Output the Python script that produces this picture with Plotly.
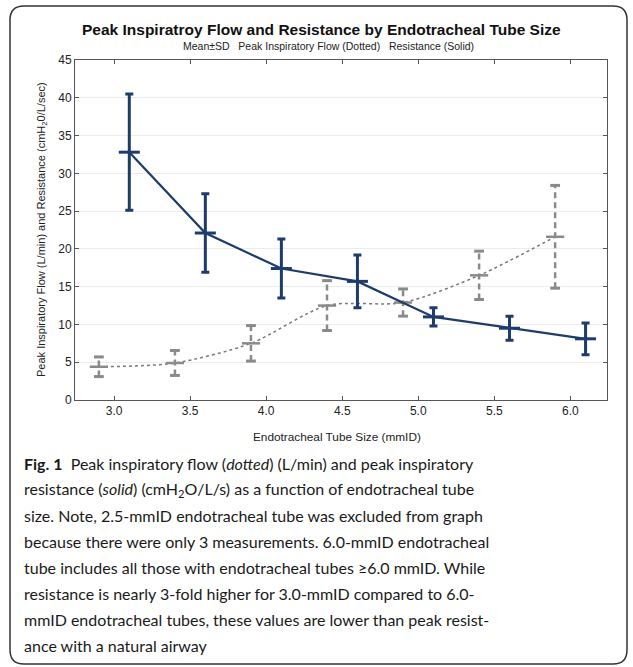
import plotly.graph_objects as go

# ---------------- data ----------------
tube_sizes = [3.0, 3.5, 4.0, 4.5, 5.0, 5.5, 6.0]
x_ticks = [3.0, 3.5, 4.0, 4.5, 5.0, 5.5, 6.0]
y_ticks = [0, 5, 10, 15, 20, 25, 30, 35, 40, 45]

flow_mean = [4.4, 4.9, 7.5, 12.5, 12.9, 16.5, 21.6]
flow_sd = [1.3, 1.65, 2.35, 3.3, 1.8, 3.2, 6.8]

res_mean = [32.8, 22.1, 17.4, 15.7, 11.0, 9.5, 8.1]
res_sd = [7.7, 5.2, 3.9, 3.5, 1.2, 1.6, 2.1]

flow_offset = -0.1
res_offset = 0.1

caption_lines = [
    "<b>Fig. 1</b>  Peak inspiratory flow (<i>dotted</i>) (L/min) and peak inspiratory",
    "resistance (<i>solid</i>) (cmH<sub>2</sub>O/L/s) as a function of endotracheal tube",
    "size. Note, 2.5-mmID endotracheal tube was excluded from graph",
    "because there were only 3 measurements. 6.0-mmID endotracheal",
    "tube includes all those with endotracheal tubes \u22656.0 mmID. While",
    "resistance is nearly 3-fold higher for 3.0-mmID compared to 6.0-",
    "mmID endotracheal tubes, these values are lower than peak resist-",
    "ance with a natural airway",
]

# ---------------- layout geometry ----------------
W, H = 633, 667
L, R, T, B = 75, 607, 60, 400


def px(x):
    return (x - L) / (R - L)


def py(y):
    return (B - y) / (B - T)


NAVY = "#1d3c6c"
GRAY = "#8a8a8a"
FONT = "Liberation Sans, Arial, sans-serif"

fx = [s + flow_offset for s in tube_sizes]
rx = [s + res_offset for s in tube_sizes]

fig = go.Figure()

# flow dashed error bars (vertical)
ebx, eby = [], []
for x, m, s in zip(fx, flow_mean, flow_sd):
    ebx += [x, x, None]
    eby += [m - s, m + s, None]
fig.add_trace(go.Scatter(x=ebx, y=eby, mode="lines",
                         line=dict(color=GRAY, width=2.5, dash="6px,4px"),
                         hoverinfo="skip", showlegend=False))
# flow caps
fig.add_trace(go.Scatter(x=fx + fx, y=[m + s for m, s in zip(flow_mean, flow_sd)] +
                         [m - s for m, s in zip(flow_mean, flow_sd)],
                         mode="markers",
                         marker=dict(symbol="line-ew", size=7,
                                     line=dict(color=GRAY, width=3)),
                         hoverinfo="skip", showlegend=False))
# flow line
fig.add_trace(go.Scatter(x=fx, y=flow_mean, mode="lines",
                         line=dict(color="#7a7a7a", width=1.5, dash="3px,3px",
                                   shape="spline", smoothing=0.8),
                         showlegend=False))
# flow mean markers
fig.add_trace(go.Scatter(x=fx, y=flow_mean, mode="markers",
                         marker=dict(symbol="line-ew", size=13,
                                     line=dict(color=GRAY, width=2.5)),
                         showlegend=False))

# resistance
fig.add_trace(go.Scatter(x=rx, y=res_mean, mode="lines",
                         line=dict(color=NAVY, width=2.2),
                         error_y=dict(type="data", array=res_sd, visible=True,
                                      color=NAVY, thickness=3, width=4),
                         showlegend=False))
fig.add_trace(go.Scatter(x=rx, y=res_mean, mode="markers",
                         marker=dict(symbol="line-ew", size=15,
                                     line=dict(color=NAVY, width=3)),
                         showlegend=False))

annotations = [
    dict(text="<b>Peak Inspiratroy Flow and Resistance by Endotracheal Tube Size</b>",
         x=px(321), y=py(29), xref="paper", yref="paper", showarrow=False,
         xanchor="center", yanchor="middle", font=dict(size=15.5, color="#111", family=FONT)),
    dict(text="Mean\u00b1SD   Peak Inspiratory Flow (Dotted)   Resistance (Solid)",
         x=px(328), y=py(46), xref="paper", yref="paper", showarrow=False,
         xanchor="center", yanchor="middle", font=dict(size=10.5, color="#222", family=FONT)),
    dict(text="Endotracheal Tube Size (mmID)",
         x=px(337), y=py(437), xref="paper", yref="paper", showarrow=False,
         xanchor="center", yanchor="middle", font=dict(size=11.8, color="#222", family=FONT)),
    dict(text="Peak Inspiratory Flow (L/min) and Resistance (cmH<sub>2</sub>0/L/sec)",
         x=px(42), y=py(230), xref="paper", yref="paper", showarrow=False, textangle=-90,
         xanchor="center", yanchor="middle", font=dict(size=11, color="#222", family=FONT)),
]
for i, line in enumerate(caption_lines):
    annotations.append(dict(text=line, x=px(22), y=py(463 + 26 * i), xref="paper", yref="paper",
                            showarrow=False, xanchor="left", yanchor="middle", align="left",
                            font=dict(size=16, color="#1a1a1a",
                                      family="Lato, Roboto, sans-serif")))

# rounded outer frame
x0, x1, y0, y1, r = 10, 627, 6, 664, 14
path = (f"M {px(x0 + r)},{py(y0)} L {px(x1 - r)},{py(y0)} Q {px(x1)},{py(y0)} {px(x1)},{py(y0 + r)} "
        f"L {px(x1)},{py(y1 - r)} Q {px(x1)},{py(y1)} {px(x1 - r)},{py(y1)} "
        f"L {px(x0 + r)},{py(y1)} Q {px(x0)},{py(y1)} {px(x0)},{py(y1 - r)} "
        f"L {px(x0)},{py(y0 + r)} Q {px(x0)},{py(y0)} {px(x0 + r)},{py(y0)} Z")

fig.update_layout(
    width=W, height=H,
    margin=dict(l=L, r=W - R, t=T, b=H - B),
    paper_bgcolor="white", plot_bgcolor="white",
    font=dict(family=FONT, size=12, color="#222"),
    annotations=annotations,
    shapes=[dict(type="path", path=path, xref="paper", yref="paper",
                 line=dict(color="#333", width=1.5), layer="below")],
    xaxis=dict(range=[2.743, 6.241], tickvals=x_ticks, ticktext=[f"{v:.1f}" for v in x_ticks],
               showgrid=False, zeroline=False, showline=True, linecolor="#555", linewidth=1,
               mirror="ticks", ticks="inside", ticklen=4, tickcolor="#555",
               tickfont=dict(size=12)),
    yaxis=dict(range=[0, 45], tickvals=y_ticks, showgrid=True, gridcolor="#ececec",
               zeroline=False, showline=True, linecolor="#555", linewidth=1,
               mirror="ticks", ticks="inside", ticklen=4, tickcolor="#555",
               tickfont=dict(size=12)),
)

fig.write_html("out.html")
